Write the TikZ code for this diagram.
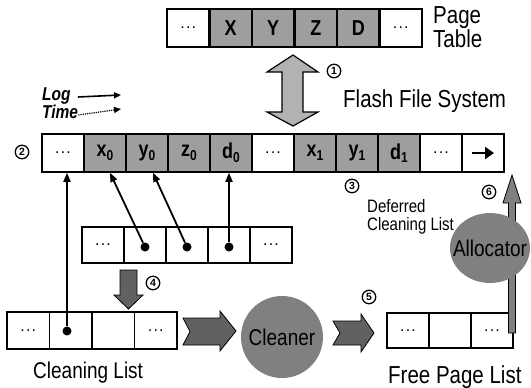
\documentclass[tikz,border=0pt]{standalone}
\usepackage{fontspec}
\setmainfont{Liberation Sans}
\usetikzlibrary{arrows.meta,shapes.geometric}
\newcommand\tallt[1]{\scalebox{1}[1.2]{#1}}
\newcommand\sub[2]{#1\raisebox{-3pt}{\fontsize{12}{12}\selectfont #2}}
\newcommand\dd{{\mdseries\fontsize{16}{16}\selectfont .\hspace{1.2pt}.\hspace{1.2pt}.}}
\begin{document}
\begin{tikzpicture}[x=1pt,y=-1pt,
  cell/.style={draw, line width=1.6pt, minimum width=42pt, minimum height=38pt, inner sep=0pt,
    font=\bfseries\fontsize{18}{18}\selectfont},
  gcell/.style={cell, fill=black!38},
  lbl/.style={font=\fontsize{20.5}{20.5}\selectfont, align=left, inner sep=0pt, anchor=west},
  num/.style={circle, draw, line width=1.3pt, inner sep=0pt, minimum size=13.5pt,
    font=\bfseries\fontsize{10.5}{10.5}\selectfont},
  dotn/.style={circle, fill=black, inner sep=0pt, minimum size=9pt},
  ptr/.style={line width=1.8pt, -{Triangle[length=9pt,width=7pt]}},
  blk/.style={fill=black!62, draw=black, line width=0.8pt, line join=miter},
  blob/.style={fill=black!50, inner sep=0pt},
  blobtext/.style={inner sep=0pt, font=\fontsize{19}{19}\selectfont}]
\useasboundingbox (0,0) rectangle (531,388);

% Page table
\node[cell]  (p1) at (188.25,28) {\dd};
\node[gcell] (p2) at (230.75,28) {\tallt{X}};
\node[gcell] (p3) at (273.25,28) {\tallt{Y}};
\node[gcell] (p4) at (315.75,28) {\tallt{Z}};
\node[gcell] (p5) at (358.25,28) {\tallt{D}};
\node[cell]  (p6) at (400.75,28) {\dd};
\node[lbl] (ptl) at (433,27) {\tallt{Page}\\[0pt]\tallt{Table}};

% double arrow
\draw[fill=black!30, line width=1.2pt, line join=miter]
  (293,55) -- (318,72) -- (303,72) -- (303,112) -- (318,112) -- (293,126)
  -- (267,112) -- (282,112) -- (282,72) -- (267,72) -- cycle;
\node[num] (n1) at (334,71) {1};
\node[lbl] (ffs) at (343,101) {\tallt{Flash File System}};

% Log / Time
\node[lbl, font=\itshape\bfseries\fontsize{15.5}{15.5}\selectfont] (log) at (42,96) {\tallt{Log}};
\node[lbl, font=\itshape\bfseries\fontsize{15.5}{15.5}\selectfont] (time) at (42,112) {\tallt{Time}};
\coordinate (loge) at (121,95);
\coordinate (timee) at (121,109);
\draw[line width=1.6pt, -{Triangle[length=7pt,width=6pt]}] ([xshift=7pt,yshift=-1pt]log.east) -- (loge);
\draw[line width=1.2pt, densely dotted, -{Triangle[length=7pt,width=6pt]}] ([yshift=-3pt]time.east) -- (timee);

% Flash row
\node[num] (n2) at (22,152) {2};
\node[cell]  (f1)  at (63,153)  {\dd};
\node[gcell] (f2)  at (105,153) {\tallt{\sub{x}{0}}};
\node[gcell] (f3)  at (147,153) {\tallt{\sub{y}{0}}};
\node[gcell] (f4)  at (189,153) {\tallt{\sub{z}{0}}};
\node[gcell] (f5)  at (231,153) {\tallt{\sub{d}{0}}};
\node[cell]  (f6)  at (273,153) {\dd};
\node[gcell] (f7)  at (315,153) {\tallt{\sub{x}{1}}};
\node[gcell] (f8)  at (357,153) {\tallt{\sub{y}{1}}};
\node[gcell] (f9)  at (399,153) {\tallt{\sub{d}{1}}};
\node[cell]  (f10) at (441,153) {\dd};
\node[cell]  (f11) at (483,153) {};
\draw[line width=2.8pt, -{Triangle[length=9pt,width=12pt]}] ([xshift=-11pt]f11.center) -- ([xshift=11pt]f11.center);

% Deferred cleaning list
\node[cell, minimum height=36pt] (d1) at (103,245) {\dd};
\node[cell, minimum height=36pt] (d2) at (145,245) {};
\node[cell, minimum height=36pt] (d3) at (187,245) {};
\node[cell, minimum height=36pt] (d4) at (229,245) {};
\node[cell, minimum height=36pt] (d5) at (271,245) {\dd};
\node[dotn] (dd2) at (145,247) {};
\node[dotn] (dd3) at (187,247) {};
\node[dotn] (dd4) at (229,247) {};
\node[num] (n3) at (352,186) {3};
\node[lbl, font=\fontsize{15}{15}\selectfont] (dcl) at (367,217) {\tallt{Deferred}\\[3pt]\tallt{Cleaning List}};

% Cleaning list
\node[cell, minimum width=42.5pt, minimum height=37pt] (c1) at (28.25,330.5) {\dd};
\node[cell, minimum width=42.5pt, minimum height=37pt] (c2) at (70.75,330.5) {};
\node[cell, minimum width=42.5pt, minimum height=37pt] (c3) at (113.25,330.5) {};
\node[cell, minimum width=42.5pt, minimum height=37pt] (c4) at (155.75,330.5) {\dd};
\node[dotn] (cd2) at (67,331) {};
\node[lbl, font=\fontsize{19}{19}\selectfont] (cll) at (33,373) {\tallt{Cleaning List}};

% pointers
\draw[ptr] (cd2) -- (cd2 |- f1.south);
\draw[ptr] (dd2) -- ([xshift=5pt]f2.south);
\draw[ptr] (dd3) -- ([xshift=6pt]f3.south);
\draw[ptr] (dd4) -- (dd4 |- f5.south);

% arrow 4
\draw[blk] (120,270) -- (137,270) -- (137,295) -- (143,295) -- (128.5,309) -- (114,295) -- (120,295) -- cycle;
\node[num] (n4) at (153,283) {4};

% Cleaner
\draw[blk] (183,318) -- (220,318) -- (220,311) -- (236,331) -- (220,351) -- (220,345) -- (183,345) -- (190,331.5) -- cycle;
\node[blob, circle, minimum size=82pt] (cleaner) at (282,337) {};
\node[blobtext] (cleanert) at (cleaner.center) {\tallt{Cleaner}};
\draw[blk] (333,321) -- (361,321) -- (361,314) -- (374,333) -- (361,352) -- (361,345) -- (333,345) -- (340,333) -- cycle;
\node[num] (n5) at (369,297) {5};

% Free page list
\node[cell, minimum height=35pt] (fp1) at (408,330.5) {\dd};
\node[cell, minimum height=35pt] (fp2) at (450,330.5) {};
\node[cell, minimum height=35pt] (fp3) at (492,330.5) {\dd};
\node[lbl] (fpl) at (388,377) {\tallt{Free Page List}};

% Allocator
\draw[fill=black!50, draw=black, line width=0.8pt, line join=miter]
  (508.5,333) -- (508.5,203) -- (503,203) -- (512,175) -- (521,203) -- (515.5,203) -- (515.5,333) -- cycle;
\node[blob, ellipse, minimum width=80pt, minimum height=70pt] (alloc) at (490,248) {};
\node[blobtext] (alloct) at (alloc.center) {\tallt{Allocator}};
\node[num] (n6) at (489,192) {6};
\end{tikzpicture}
\end{document}
